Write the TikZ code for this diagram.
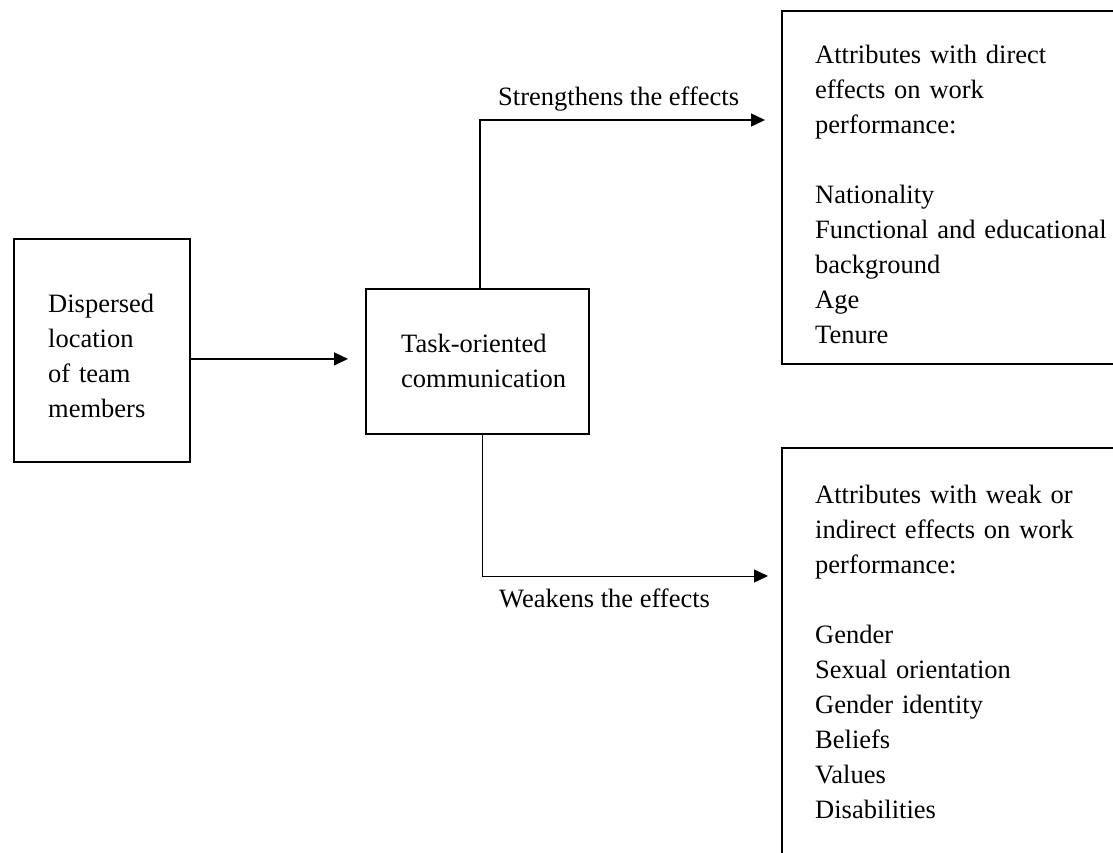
\documentclass[tikz,border=0pt]{standalone}
\usepackage{fontspec}
\setmainfont{Liberation Serif}
\usetikzlibrary{arrows.meta}
\begin{document}
\begin{tikzpicture}[x=1pt,y=-1pt,
  box/.style={draw, line width=1.8pt, inner sep=0pt, anchor=north west},
  txt/.style={font=\fontsize{26.5}{35.1}\selectfont, anchor=base west, inner sep=0pt, align=left, text width=#1},
  txt/.default=300pt,
  lbl/.style={font=\fontsize{26.5}{35.1}\selectfont, anchor=base west, inner sep=0pt},
  conn/.style={line width=1.4pt, -{Triangle[length=14pt,width=13pt]}}]
\useasboundingbox (0,0) rectangle (1113,852);
\clip (0,0) rectangle (1113,852);
\fill[white] (0,0) rectangle (1113,852);
% boxes
\node[box, minimum width=176pt, minimum height=223pt] (left) at (13,238) {};
\node[box, minimum width=223pt, minimum height=145pt] (mid) at (365,288) {};
\node[box, minimum width=350pt, minimum height=353pt] (tr) at (781,10) {};
\node[box, minimum width=350pt, minimum height=430pt] (br) at (781,447) {};
% texts
\node[txt=170pt] (lefttext) at (48,312) {Dispersed\\location\\of team\\members};
\node[txt=210pt] (midtext) at (401,352) {Task-oriented\\communication};
\node[txt=310pt] (trtext) at (815,63) {Attributes with direct\\effects on work\\performance:\\\mbox{}\\Nationality\\Functional and educational\\background\\Age\\Tenure};
\node[txt=310pt] (brtext) at (815,503) {Attributes with weak or\\indirect effects on work\\performance:\\\mbox{}\\Gender\\Sexual orientation\\Gender identity\\Beliefs\\Values\\Disabilities};
% labels
\node[lbl] (strong) at (498,105) {Strengthens the effects};
\node[lbl] (weak) at (499,607) {Weakens the effects};
% connectors
\coordinate (arrowy) at ([yshift=2.5pt]mid.west);
\coordinate (upbend) at (480,120);
\coordinate (lowbend) at (482,576);
\draw[conn, line width=1.3pt, shorten >=17pt] (arrowy -| left.east) -- (arrowy);
\draw[conn, shorten >=16pt] (mid.north -| upbend) -- (upbend) -- (upbend -| tr.west);
\draw[conn, line width=1pt, shorten >=13pt] (mid.south -| lowbend) -- (lowbend) -- (lowbend -| br.west);
\end{tikzpicture}
\end{document}
